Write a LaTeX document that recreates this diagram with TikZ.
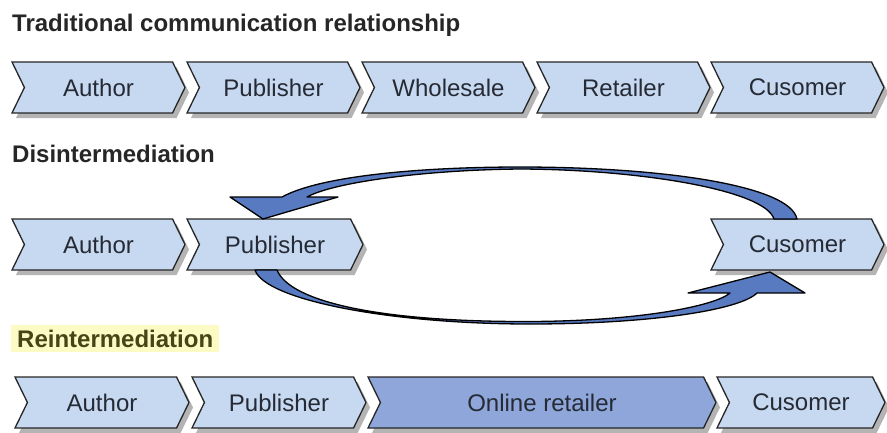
\documentclass[tikz,border=0pt]{standalone}
\usepackage{fontspec}
\setmainfont{Liberation Sans}
\usetikzlibrary{shapes.symbols,shadows}
\definecolor{bleuclair}{RGB}{198,217,241}
\definecolor{bleufonce}{RGB}{142,166,218}
\definecolor{bleufleche}{RGB}{88,122,192}
\definecolor{ombre}{RGB}{180,180,180}
\definecolor{surligne}{RGB}{253,251,196}
\definecolor{texteolive}{RGB}{72,68,24}
\definecolor{texteetape}{RGB}{38,42,52}
\begin{document}
\begin{tikzpicture}[x=1pt,y=-1pt]
		% définition des styles
		\tikzstyle{etape}=[signal,signal from=west,signal to=east,signal pointer angle=128,draw=black!85,line width=1.3pt,fill=bleuclair,text=texteetape,minimum height=51pt,inner sep=0pt,font=\fontsize{24}{28}\selectfont,drop shadow={shadow xshift=4pt,shadow yshift=-5pt,fill=ombre,opacity=1}]
		\tikzstyle{titre}=[anchor=base west,inner sep=0pt,font=\bfseries\fontsize{24}{28}\selectfont,text=black!85]
		\tikzstyle{boucle}=[draw=black,line width=1.3pt,fill=bleufleche,line join=round]
		\useasboundingbox (0,0) rectangle (887,432);
		% les titres
		\node[titre] (trad) at (12,31) {Traditional communication relationship};
		\node[titre] (disint) at (12,162) {Disintermediation};
		\node[titre,text=texteolive,fill=surligne,inner xsep=6pt,inner ysep=5pt,text depth=0pt] (reint) at (11,347) {Reintermediation};
		% les étapes
		\node[etape,minimum width=173pt] (aut1) at (98.5,87.5) {Author};
		\node[etape,minimum width=173pt] (pub1) at (273.5,87.5) {Publisher};
		\node[etape,minimum width=173pt] (who1) at (448.5,87.5) {Wholesale};
		\node[etape,minimum width=173pt] (ret1) at (623.5,87.5) {Retailer};
		\node[etape,minimum width=173pt] (cus1) at (797.5,87.5) {Cusomer};
		\node[etape,minimum width=173pt] (aut2) at (98.5,244.5) {Author};
		\node[etape,minimum width=176pt] (pub2) at (275,244.5) {Publisher};
		\node[etape,minimum width=173pt] (cus2) at (797.5,244.5) {Cusomer};
		\node[etape,minimum width=174pt] (aut3) at (102,402.5) {Author};
		\node[etape,minimum width=174pt] (pub3) at (279,402.5) {Publisher};
		\node[etape,minimum width=348pt,fill=bleufonce] (onl3) at (542,402.5) {Online retailer};
		\node[etape,minimum width=168pt] (cus3) at (801,402.5) {Cusomer};
		% les flèches
		\draw[boucle] (797,219) .. controls (790,185) and (660,167) .. (520,167)
			.. controls (420,167) and (320,176) .. (282,197) -- (230,197) -- (263,219) -- (338,197) -- (307,197)
			.. controls (332,183) and (420,170) .. (520,169)
			.. controls (640,169.5) and (765,190) .. (774,219) -- cycle;
		\draw[boucle] (255,270) .. controls (265,300) and (390,324) .. (530,324)
			.. controls (650,324) and (740,310) .. (757,293) -- (805,293) -- (770,272) -- (688,293) -- (730,293)
			.. controls (715,306) and (640,321) .. (530,321.5)
			.. controls (380,322) and (290,302) .. (277,270) -- cycle;
\end{tikzpicture}
\end{document}
